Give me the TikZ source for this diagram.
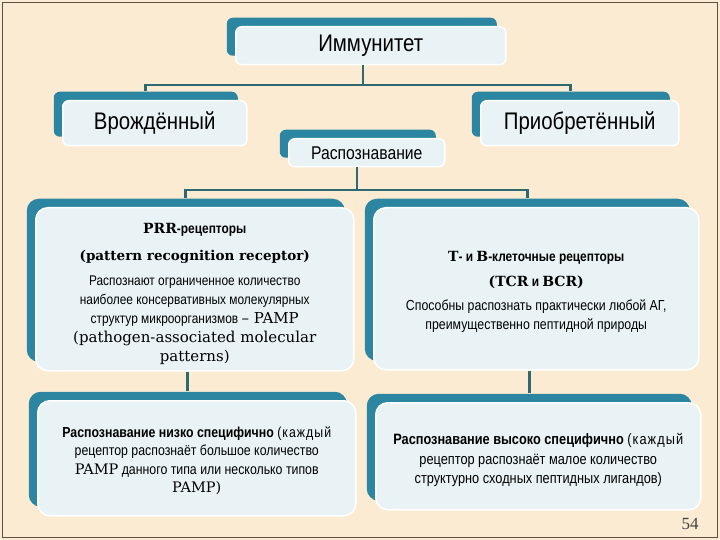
\documentclass[tikz,border=0pt]{standalone}
\usepackage{fontspec}
\newfontfamily\rs[FakeStretch=0.85]{Liberation Sans}
\newfontfamily\rsw[FakeStretch=0.85, LetterSpace=7]{Liberation Sans}
\newfontfamily\sr{DejaVu Serif}
\newfontfamily\pnumfont{Liberation Serif}
\definecolor{bgc}{HTML}{FBEBD2}
\definecolor{framec}{HTML}{5E5040}
\definecolor{tealc}{HTML}{2C86A1}
\definecolor{lightc}{HTML}{E9F3F6}
\definecolor{linec}{HTML}{2E6871}
\begin{document}
\begin{tikzpicture}[x=1pt,y=-1pt,
  box/.style={draw=white, line width=1.5pt, fill=lightc, rounded corners=#1,
    anchor=north west, inner sep=0pt, align=center, text=black,
    preaction={fill=tealc, draw=none, transform canvas={shift={(-9pt,9pt)}}}},
  box/.default=6pt,
  conn/.style={draw=linec, line width=2.8pt},
  ttl/.style={font=\rs\fontsize{24}{24}\selectfont},
  body/.style={font=\rs\fontsize{14}{19}\selectfont, align=center, inner sep=0pt, text=black}
]
\useasboundingbox (0,0) rectangle (720,540);
\fill[bgc] (0,0) rectangle (720,540);
\draw[framec, line width=1pt] (2.5,2.5) rectangle (717.5,537.5);

% top level
\node[box, ttl, minimum width=270pt, minimum height=38pt] (top) at (235,26) {Иммунитет};
\node[box, ttl, minimum width=184pt, minimum height=45pt] (vr) at (62,100) {Врождённый};
\node[box, ttl, minimum width=198pt, minimum height=45pt] (pr) at (480,100) {Приобретённый};
\node[box, font=\rs\fontsize{18.5}{19}\selectfont, minimum width=156pt, minimum height=28pt] (ras) at (288,138) {Распознавание};

% big boxes
\node[box=12pt, minimum width=318pt, minimum height=163pt] (b1) at (35,207) {};
\node[box=12pt, minimum width=325pt, minimum height=162pt] (b2) at (373,207) {};
\node[box=12pt, minimum width=318pt, minimum height=115pt] (b3) at (37,400) {};
\node[box=12pt, minimum width=325pt, minimum height=107pt] (b4) at (375,402) {};

\node[body] (b1t) at ([yshift=-5pt]b1.center) {%
{\bfseries\sr PRR}{\bfseries -рецепторы}\\[8pt]
{\bfseries\sr\fontsize{13.5}{19}\selectfont (pattern recognition receptor)}\\[6pt]
{Распознают ограниченное количество}\\
{наиболее консервативных молекулярных}\\
{структур микроорганизмов {\sr\fontsize{15}{19}\selectfont – PAMP}}\\
{\sr\fontsize{15}{19}\selectfont (pathogen-associated molecular}\\
{\sr\fontsize{15}{19}\selectfont patterns)}};

\node[body] (b2t) at ([yshift=-3pt]b2.center) {%
{{\bfseries\sr Т}{\bfseries - и }{\bfseries\sr В}{\bfseries -клеточные рецепторы}}\\[6pt]
{{\bfseries\sr (TCR} {\bfseries и} {\bfseries\sr BCR)}}\\[5pt]
{\fontsize{14.5}{15}\selectfont Способны распознать практически любой АГ,}\\
{\fontsize{14.5}{15}\selectfont преимущественно пептидной природы}};

\node[body, font=\rs\fontsize{14.5}{18.5}\selectfont] (b3t) at ([yshift=-2.5pt]b3.center) {%
{{\bfseries Распознавание низко специфично} {\rsw(каждый}}\\
{рецептор распознаёт большое количество}\\
{{\sr PAMP} данного типа или несколько типов}\\
{\sr PAMP)}};

\node[body, font=\rs\fontsize{15}{19.5}\selectfont] (b4t) at ([yshift=-4pt]b4.center) {%
{{\bfseries Распознавание высоко специфично} {\rsw(каждый}}\\
{рецептор распознаёт малое количество}\\
{структурно сходных пептидных лигандов)}};

% teal-top anchor points
\coordinate (vrT) at ([shift={(-9pt,9pt)}]vr.north);
\coordinate (prT) at ([shift={(-9pt,9pt)}]pr.north);
\coordinate (b1T) at ([shift={(-9pt,9pt)}]b1.north);
\coordinate (b2T) at ([shift={(-9pt,9pt)}]b2.north);
\coordinate (b3T) at ([shift={(-9pt,9pt)}]b3.north);
\coordinate (b4T) at ([shift={(-9pt,9pt)}]b4.north);

% connectors
\coordinate (hub) at (363,85);
\draw[conn] (top.south -| hub) -- (hub);
\draw[conn] (vrT) |- (hub) -| (prT);
\coordinate (hub2) at (357,190);
\draw[conn] (ras.south -| hub2) -- (hub2);
\draw[conn] (b1T) |- (hub2) -| (b2T);
\draw[conn] (b1.south -| b3T) -- (b3T);
\draw[conn] (b2.south -| b4T) -- (b4T);

\node[font=\pnumfont\fontsize{17}{17}\selectfont, text=black!75] (pg) at (690,524) {54};
\end{tikzpicture}
\end{document}
